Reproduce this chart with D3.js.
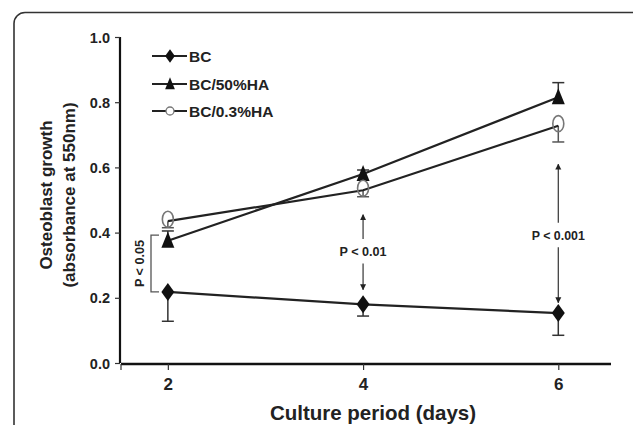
<!DOCTYPE html>
<html>
<head>
<meta charset="utf-8">
<script src="https://cdn.jsdelivr.net/npm/d3@7"></script>
<style>
  body { margin: 0; background: #fff; }
  text { font-family: Arial, "Liberation Sans", sans-serif; font-weight: bold; fill: #222; }
</style>
</head>
<body>
<script>
// data
var days = [2, 4, 6];
var bc = [0.218, 0.180, 0.153];
var bcErrLow = [0.09, 0.036, 0.068];
var ha50 = [0.375, 0.580, 0.815];
var ha50ErrHigh = [0.03, 0.012, 0.045];
var ha03 = [0.435, 0.530, 0.728];
var ha03ErrLow = [0.02, 0.02, 0.05];
var yTicks = [0.0, 0.2, 0.4, 0.6, 0.8, 1.0];
var legendNames = ['BC', 'BC/50%HA', 'BC/0.3%HA'];

var width = 633, height = 425;
var svg = d3.select('body').append('svg')
    .attr('width', width)
    .attr('height', height);

// rounded frame, cut off at right and bottom
svg.append('rect')
    .attr('x', 14).attr('y', 12.5)
    .attr('width', 640).attr('height', 440)
    .attr('rx', 11).attr('ry', 11)
    .attr('fill', 'none')
    .attr('stroke', '#333')
    .attr('stroke-width', 1.6);

var x = d3.scaleLinear().domain([1.52, 6.54]).range([121, 611]);
var y = d3.scaleLinear().domain([0, 1]).range([363, 37]);

// y axis
var yAxis = svg.append('g')
    .attr('transform', 'translate(120,0)')
    .call(d3.axisLeft(y).tickValues(yTicks).tickFormat(d3.format('.1f')).tickSize(5).tickPadding(5));
yAxis.select('.domain').attr('stroke', '#111').attr('stroke-width', 2.2).attr('d', 'M0,' + y(1) + 'V' + y(0));
yAxis.selectAll('.tick line').attr('stroke', '#333').attr('stroke-width', 1.2);
yAxis.selectAll('.tick text').style('font-size', '14.5px').attr('fill', '#222').attr('dy', '0.35em');

// x axis
var xAxis = svg.append('g')
    .attr('transform', 'translate(0,' + (y(0) + 1) + ')')
    .call(d3.axisBottom(x).tickValues(days).tickFormat(d3.format('d')).tickSize(6).tickPadding(8));
xAxis.select('.domain').attr('stroke', '#111').attr('stroke-width', 2.6).attr('d', 'M' + x.range()[0] + ',0H' + x.range()[1]);
xAxis.selectAll('.tick line').attr('stroke', '#333').attr('stroke-width', 1.2);
xAxis.selectAll('.tick text').style('font-size', '17px').attr('fill', '#222');
xAxis.append('line')
    .attr('x1', x.range()[0]).attr('x2', x.range()[0])
    .attr('y1', 0).attr('y2', 6)
    .attr('stroke', '#333').attr('stroke-width', 1.2);

// axis titles
svg.append('text')
    .attr('x', 373).attr('y', 420)
    .attr('text-anchor', 'middle')
    .style('font-size', '20.5px')
    .text('Culture period (days)');

var yTitle = svg.append('g').attr('transform', 'translate(0,195) rotate(-90)');
yTitle.append('text')
    .attr('x', 0).attr('y', 52)
    .attr('text-anchor', 'middle')
    .style('font-size', '17px')
    .text('Osteoblast growth');
yTitle.append('text')
    .attr('x', 0).attr('y', 75)
    .attr('text-anchor', 'middle')
    .style('font-size', '17px')
    .text('(absorbance at 550nm)');

// error bars
function errBars(vals, errs, dir, col) {
    var g = svg.append('g').attr('stroke', col).attr('stroke-width', 1.5).attr('fill', 'none');
    vals.forEach(function(v, i) {
        var end = v + dir * errs[i];
        g.append('line')
            .attr('x1', x(days[i])).attr('x2', x(days[i]))
            .attr('y1', y(v)).attr('y2', y(end));
        g.append('line')
            .attr('x1', x(days[i]) - 6).attr('x2', x(days[i]) + 6)
            .attr('y1', y(end)).attr('y2', y(end));
    });
}
errBars(bc, bcErrLow, -1, '#333');
errBars(ha50, ha50ErrHigh, 1, '#333');
errBars(ha03, ha03ErrLow, -1, '#555');

// series lines
var line = d3.line()
    .x(function(d, i) { return x(days[i]); })
    .y(function(d) { return y(d); });

[bc, ha50, ha03].forEach(function(s) {
    svg.append('path')
        .attr('d', line(s))
        .attr('fill', 'none')
        .attr('stroke', '#222')
        .attr('stroke-width', 2.2);
});

// markers
function diamond(cx, cy, s) {
    return 'M' + cx + ',' + (cy - 9 * s) + 'L' + (cx + 6.5 * s) + ',' + cy +
        'L' + cx + ',' + (cy + 9 * s) + 'L' + (cx - 6.5 * s) + ',' + cy + 'Z';
}
function triangle(cx, cy, s) {
    return 'M' + cx + ',' + (cy - 9 * s) + 'L' + (cx + 6.5 * s) + ',' + (cy + 7 * s) +
        'L' + (cx - 6.5 * s) + ',' + (cy + 7 * s) + 'Z';
}

svg.selectAll('.m-bc').data(bc).enter().append('path')
    .attr('d', function(d, i) { return diamond(x(days[i]), y(d), 1); })
    .attr('fill', '#111');

svg.selectAll('.m-ha50').data(ha50).enter().append('path')
    .attr('d', function(d, i) { return triangle(x(days[i]), y(d), 1); })
    .attr('fill', '#111');

svg.selectAll('.m-ha03').data(ha03).enter().append('ellipse')
    .attr('cx', function(d, i) { return x(days[i]); })
    .attr('cy', function(d) { return y(d) - 2; })
    .attr('rx', 5.5).attr('ry', 8)
    .attr('fill', 'none')
    .attr('stroke', '#777')
    .attr('stroke-width', 1.6);

// legend
var legY = [56, 84, 111];
legendNames.forEach(function(name, i) {
    var g = svg.append('g');
    g.append('line')
        .attr('x1', 152).attr('x2', 187)
        .attr('y1', legY[i]).attr('y2', legY[i])
        .attr('stroke', '#222').attr('stroke-width', 2);
    if (i === 0) g.append('path').attr('d', diamond(170, legY[i], 0.75)).attr('fill', '#111');
    if (i === 1) g.append('path').attr('d', triangle(170, legY[i], 0.75)).attr('fill', '#111');
    if (i === 2) g.append('ellipse').attr('cx', 170).attr('cy', legY[i]).attr('rx', 4).attr('ry', 4)
        .attr('fill', '#fff').attr('stroke', '#777').attr('stroke-width', 1.3);
    g.append('text')
        .attr('x', 189).attr('y', legY[i])
        .attr('dy', '0.36em')
        .style('font-size', '15.5px')
        .text(name);
});

// significance annotations
var defs = svg.append('defs');
defs.append('marker')
    .attr('id', 'ah')
    .attr('viewBox', '0 0 10 10')
    .attr('refX', 9).attr('refY', 5)
    .attr('markerWidth', 6).attr('markerHeight', 7)
    .attr('markerUnits', 'userSpaceOnUse')
    .attr('orient', 'auto')
    .append('path').attr('d', 'M0,0L10,5L0,10Z').attr('fill', '#222');

function arrows(day, yTop, yTextTop, yTextBot, yBot, label, len) {
    var cx = x(day);
    svg.append('line')
        .attr('x1', cx).attr('x2', cx).attr('y1', y(yTextTop)).attr('y2', y(yTop))
        .attr('stroke', '#333').attr('stroke-width', 1.2).attr('marker-end', 'url(#ah)');
    svg.append('line')
        .attr('x1', cx).attr('x2', cx).attr('y1', y(yTextBot)).attr('y2', y(yBot))
        .attr('stroke', '#333').attr('stroke-width', 1.2).attr('marker-end', 'url(#ah)');
    svg.append('text')
        .attr('x', cx).attr('y', (y(yTextTop) + y(yTextBot)) / 2)
        .attr('dy', '0.36em')
        .attr('text-anchor', 'middle')
        .style('font-size', '13.5px')
        .attr('textLength', len)
        .attr('lengthAdjust', 'spacingAndGlyphs')
        .text(label);
}
arrows(4, 0.455, 0.38, 0.305, 0.225, 'P < 0.01', 47);
arrows(6, 0.61, 0.43, 0.355, 0.185, 'P < 0.001', 53);

// bracket for day 2
var bx = 151;
svg.append('path')
    .attr('d', 'M' + (bx + 8) + ',' + y(0.392) + 'H' + bx + 'V' + y(0.218) + 'H' + (bx + 8))
    .attr('fill', 'none')
    .attr('stroke', '#555')
    .attr('stroke-width', 1.3);
svg.append('text')
    .attr('transform', 'translate(139,' + ((y(0.392) + y(0.218)) / 2) + ') rotate(-90)')
    .attr('text-anchor', 'middle')
    .attr('dy', '0.36em')
    .style('font-size', '13.5px')
    .attr('textLength', 47)
    .attr('lengthAdjust', 'spacingAndGlyphs')
    .text('P < 0.05');
</script>
</body>
</html>
